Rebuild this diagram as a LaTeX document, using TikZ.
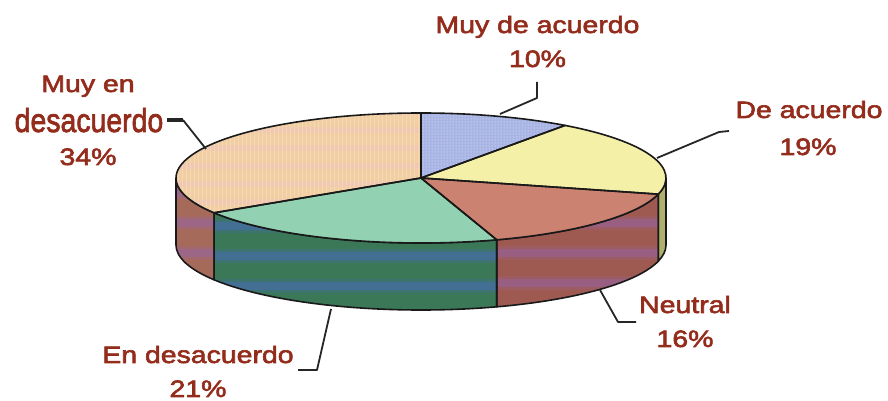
\documentclass[tikz,border=0pt]{standalone}
\usepackage{fontspec}
\setmainfont{Liberation Sans}[FakeStretch=1.2,FakeBold=2.5]
\usetikzlibrary{calc,patterns}
\definecolor{lbl}{RGB}{148,44,28}
\definecolor{topPeach}{RGB}{242,207,162}
\definecolor{topPink}{RGB}{240,196,186}
\definecolor{topBlue}{RGB}{168,180,228}
\definecolor{topYellow}{RGB}{245,240,168}
\definecolor{topRed}{RGB}{204,130,112}
\definecolor{topMint}{RGB}{146,210,178}
\definecolor{sideBrown}{RGB}{166,106,90}
\definecolor{sidePurple}{RGB}{150,100,170}
\definecolor{sideGreen}{RGB}{58,120,88}
\definecolor{sideBlue}{RGB}{74,108,180}
\definecolor{sideRed}{RGB}{158,90,80}
\definecolor{sideOlive}{RGB}{176,176,110}
\newcommand\sidepath[2]{($(C)+(#1:245pt and 65pt)$) arc[start angle=#1,end angle=#2,x radius=245pt,y radius=65pt] -- ($(B)+(#2:245pt and 65pt)$) arc[start angle=#2,end angle=#1,x radius=245pt,y radius=65pt] -- cycle}
\newcommand\toppath[2]{(C) -- ($(C)+(#1:245pt and 65pt)$) arc[start angle=#1,end angle=#2,x radius=245pt,y radius=65pt] -- cycle}
\begin{document}
\begin{tikzpicture}[x=1pt,y=1pt,
  lab/.style={text=lbl,font=\fontsize{23.7}{28}\selectfont,inner sep=0pt,anchor=base},
  leader/.style={draw=black!85,line width=1.8pt,line join=round},
  rim/.style={draw=black!90,line width=1.6pt,line join=round},
  band/.style={opacity=.45}]
\useasboundingbox (0,0) rectangle (888,401);
\fill[white] (0,0) rectangle (888,401);
\coordinate (C) at (421,223);
\coordinate (B) at (421,156);

% ---- side faces ----
\begin{scope}
  \clip \sidepath{-180}{-147.6};
  \fill[sideBrown] (100,60) rectangle (760,240);
  \foreach \yy in {84,114,...,230} {\fill[sidePurple,band] (100,\yy) rectangle (760,\yy+8);
    \fill[sidePurple,opacity=.2] (100,\yy-3) rectangle (760,\yy+11);}
\end{scope}
\begin{scope}
  \clip \sidepath{-147.6}{-72};
  \fill[sideGreen] (100,60) rectangle (760,240);
  \foreach \yy in {81,111,...,230} {\fill[sideBlue,opacity=.55] (100,\yy) rectangle (760,\yy+8);
    \fill[sideBlue,opacity=.25] (100,\yy-3) rectangle (760,\yy+11);}
\end{scope}
\begin{scope}
  \clip \sidepath{-72}{-14.4};
  \fill[sideRed] (100,60) rectangle (760,240);
  \foreach \yy in {84,114,...,230} {\fill[sidePurple,band] (100,\yy) rectangle (760,\yy+8);
    \fill[sidePurple,opacity=.2] (100,\yy-3) rectangle (760,\yy+11);}
\end{scope}
\fill[sideOlive] \sidepath{-14.4}{0};
\draw[rim] \sidepath{-180}{-147.6};
\draw[rim] \sidepath{-147.6}{-72};
\draw[rim] \sidepath{-72}{-14.4};
\draw[rim] \sidepath{-14.4}{0};

% ---- top sectors ----
\begin{scope}
  \clip \toppath{-147.6}{-270};
  \fill[topPeach] (150,150) rectangle (700,300);
  \foreach \yy in {196,214,...,290} \fill[topPink,opacity=.5] (150,\yy) rectangle (700,\yy+6);
  \foreach \xx in {170,174,...,430} \draw[white,opacity=.2,line width=.8pt] (\xx,150) -- (\xx,300);
\end{scope}
\fill[topBlue] \toppath{90}{54};
\fill[pattern=dots,pattern color=white!80!topBlue] \toppath{90}{54};
\fill[topYellow] \toppath{54}{-14.4};
\fill[topRed] \toppath{-14.4}{-72};
\fill[topMint] \toppath{-72}{-147.6};
\draw[rim] \toppath{90}{54};
\draw[rim] \toppath{54}{-14.4};
\draw[rim] \toppath{-14.4}{-72};
\draw[rim] \toppath{-72}{-147.6};
\draw[rim] \toppath{-147.6}{-270};

% ---- labels ----
\node[lab] (mda1) at (537.5,368) {Muy de acuerdo};
\node[lab] (mda2) at (537.5,334) {10\%};
\node[lab] (da1) at (809,283) {De acuerdo};
\node[lab] (da2) at (808,246) {19\%};
\node[lab] (mea1) at (88,309) {Muy en};
\node[lab] (mea2) at (89,269) {\scalebox{1}[1.4]{desacuerdo}};
\node[lab] (mea3) at (88,236) {34\%};
\node[lab] (neu1) at (685,88) {Neutral};
\node[lab] (neu2) at (685,54) {16\%};
\node[lab] (ed1) at (198,38) {En desacuerdo};
\node[lab] (ed2) at (198,4) {21\%};

% ---- leader lines ----
\coordinate (mdaA) at (537,319);
\coordinate (mdaB) at (537,303);
\coordinate (mdaC) at (500,287);
\draw[leader] (mdaA) -- (mdaB) -- (mdaC);
\coordinate (daA) at (729,270);
\coordinate (daB) at (719,269);
\coordinate (daC) at (657,243);
\draw[leader] (daA) -- (daB) -- (daC);
\coordinate (meaA) at (167,281);
\coordinate (meaB) at (183,281);
\coordinate (meaC) at (206,252);
\draw[leader,line width=3.5pt] (meaA) -- (meaB);
\draw[leader] (meaB) -- (meaC);
\coordinate (neuA) at (600,111);
\coordinate (neuB) at (618,79);
\coordinate (neuC) at (636,79);
\draw[leader] (neuA) -- (neuB) -- (neuC);
\coordinate (edA) at (331,92);
\coordinate (edB) at (317,31);
\coordinate (edC) at (298,31);
\draw[leader] (edA) -- (edB) -- (edC);
\end{tikzpicture}
\end{document}
